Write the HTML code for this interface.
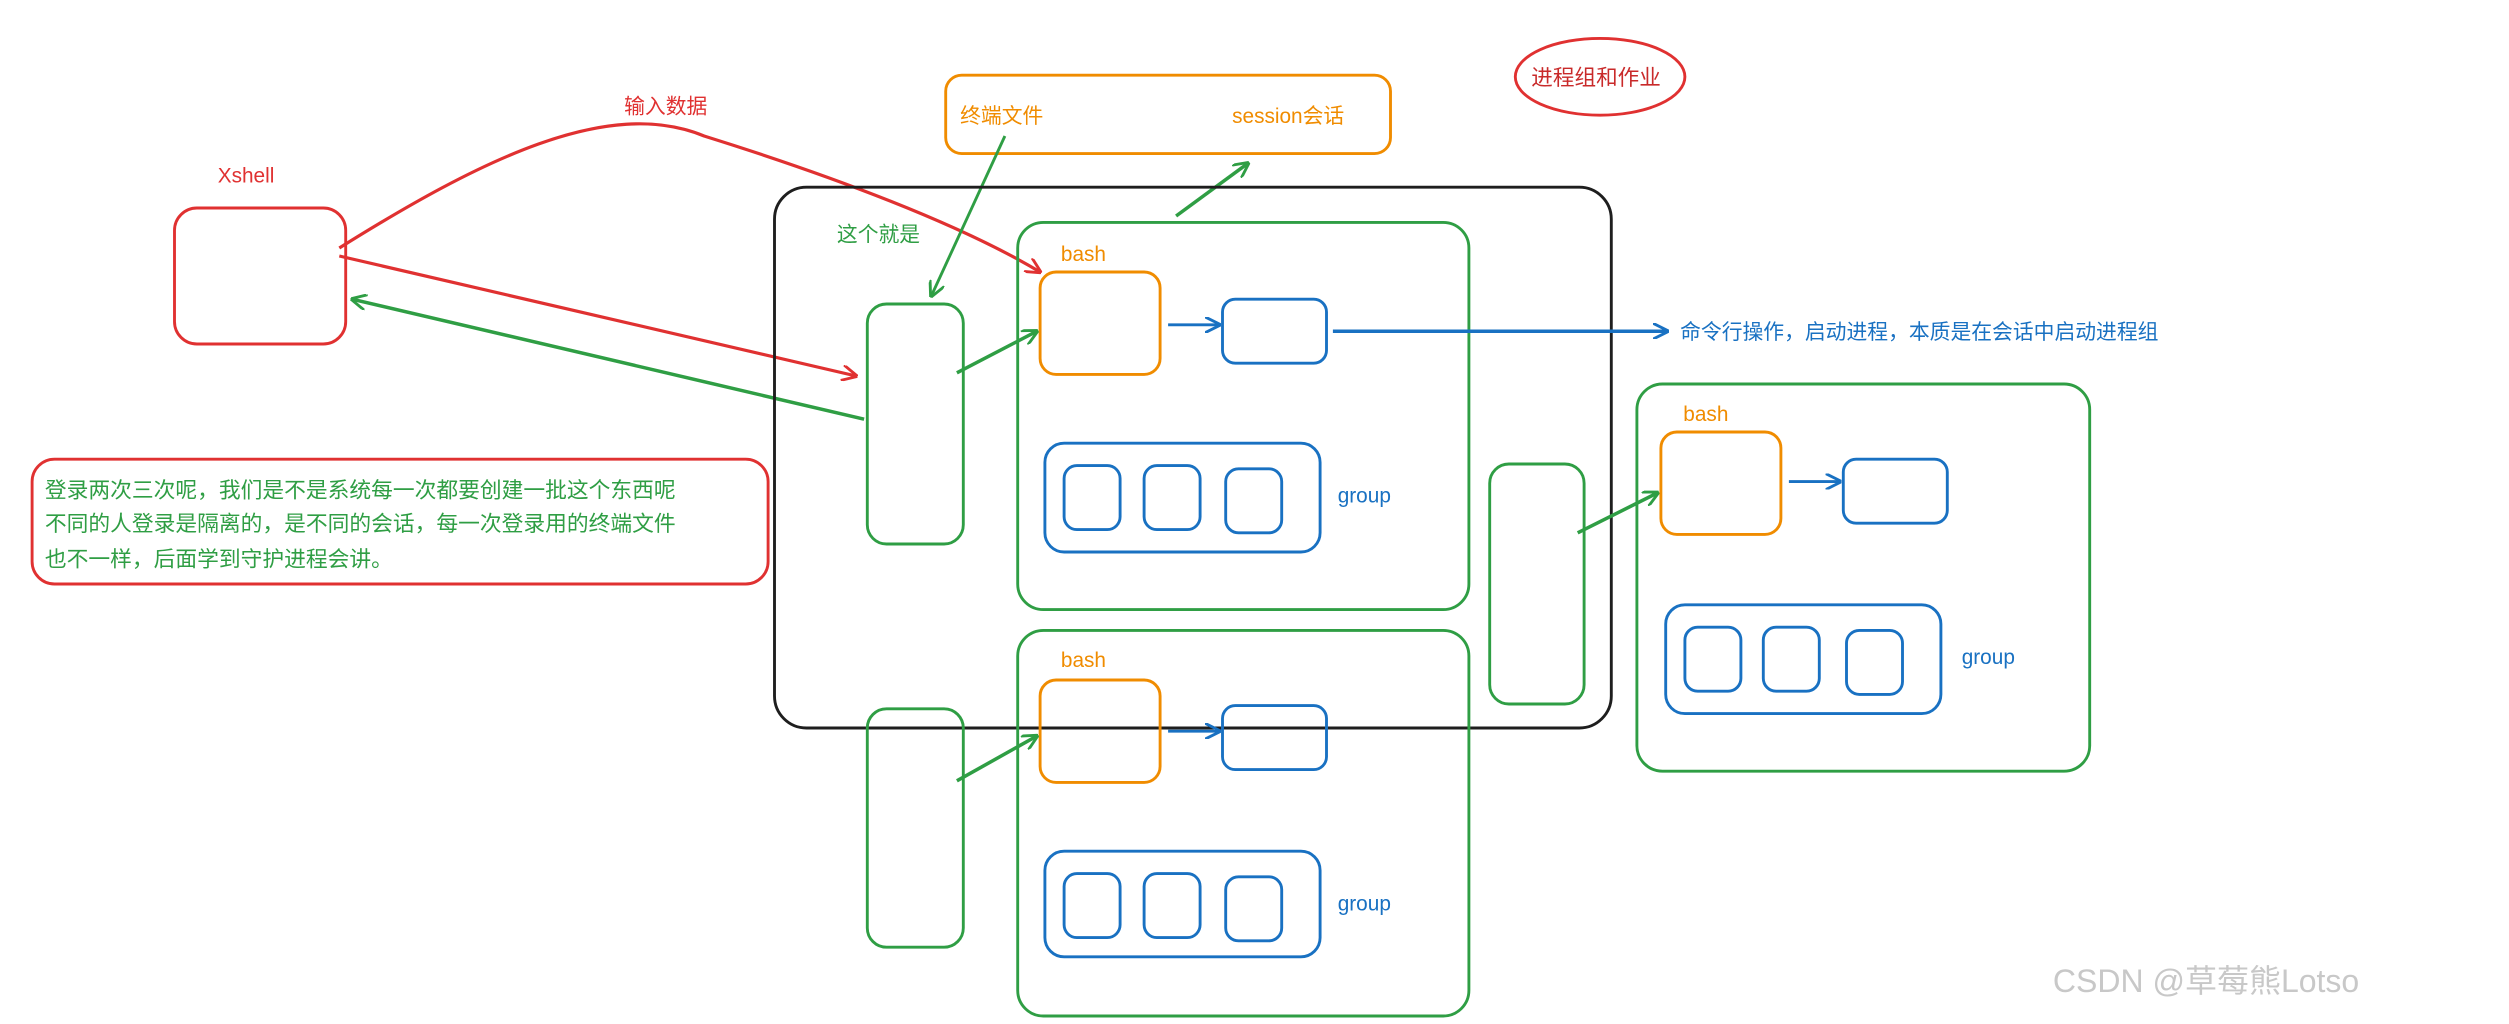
<!DOCTYPE html>
<html><head><meta charset="utf-8"><style>
html,body{margin:0;padding:0;background:#fff;}
svg{display:block}
text{font-family:"Liberation Sans","Noto Sans CJK SC",sans-serif;}
</style></head><body>
<svg width="2509" height="1024" viewBox="0 0 1568 640" xmlns="http://www.w3.org/2000/svg">
<defs>
<marker id="ar" markerWidth="10" markerHeight="10" refX="9" refY="5" orient="auto" markerUnits="userSpaceOnUse"><path d="M0,0 L10,5 L0,10" fill="none" stroke="#e03131" stroke-width="1.8"/></marker>
<marker id="ag" markerWidth="10" markerHeight="10" refX="9" refY="5" orient="auto" markerUnits="userSpaceOnUse"><path d="M0,0 L10,5 L0,10" fill="none" stroke="#2f9e44" stroke-width="1.8"/></marker>
<marker id="ab" markerWidth="10" markerHeight="10" refX="9" refY="5" orient="auto" markerUnits="userSpaceOnUse"><path d="M0,0 L10,5 L0,10" fill="none" stroke="#1971c2" stroke-width="1.8"/></marker>
</defs>
<g fill="none" stroke-width="1.8">
<rect x="109" y="130" width="107" height="85" rx="14" stroke="#e03131"/>
<path d="M212,155 C300,100 380,60 440,85 C520,110 600,140 650,170" stroke="#e03131" stroke-width="2" marker-end="url(#ar)"/>
<line x1="212" y1="160" x2="535" y2="235" stroke="#e03131" stroke-width="2" marker-end="url(#ar)"/>
<line x1="540" y1="262" x2="220" y2="187" stroke="#2f9e44" stroke-width="2.2" marker-end="url(#ag)"/>
<rect x="591" y="47" width="278" height="49" rx="10" stroke="#f08c00"/>
<line x1="628" y1="85" x2="582" y2="185" stroke="#2f9e44" marker-end="url(#ag)"/>
<line x1="735" y1="135" x2="780" y2="102" stroke="#2f9e44" stroke-width="2.2" marker-end="url(#ag)"/>
<rect x="484" y="117" width="523" height="338" rx="20" stroke="#1e1e1e"/>
<rect x="542" y="190" width="60" height="150" rx="12" stroke="#2f9e44"/>
<rect x="542" y="443" width="60" height="149" rx="12" stroke="#2f9e44"/>
<rect x="636" y="139" width="282" height="242" rx="16" stroke="#2f9e44"/>
<rect x="650" y="170" width="75" height="64" rx="10" stroke="#f08c00"/>
<line x1="730" y1="203" x2="762" y2="203" stroke="#1971c2" marker-end="url(#ab)"/>
<rect x="764" y="187" width="65" height="40" rx="8" stroke="#1971c2"/>
<line x1="833" y1="207" x2="1042" y2="207" stroke="#1971c2" stroke-width="2.2" marker-end="url(#ab)"/>
<rect x="653" y="277" width="172" height="68" rx="12" stroke="#1971c2"/>
<rect x="665" y="291" width="35" height="40" rx="8" stroke="#1971c2"/>
<rect x="715" y="291" width="35" height="40" rx="8" stroke="#1971c2"/>
<rect x="766" y="293" width="35" height="40" rx="8" stroke="#1971c2"/>
<line x1="598" y1="233" x2="648" y2="207" stroke="#2f9e44" stroke-width="2.2" marker-end="url(#ag)"/>
<rect x="636" y="394" width="282" height="241" rx="16" stroke="#2f9e44"/>
<rect x="650" y="425" width="75" height="64" rx="10" stroke="#f08c00"/>
<line x1="730" y1="457" x2="762" y2="457" stroke="#1971c2" marker-end="url(#ab)"/>
<rect x="764" y="441" width="65" height="40" rx="8" stroke="#1971c2"/>
<rect x="653" y="532" width="172" height="66" rx="12" stroke="#1971c2"/>
<rect x="665" y="546" width="35" height="40" rx="8" stroke="#1971c2"/>
<rect x="715" y="546" width="35" height="40" rx="8" stroke="#1971c2"/>
<rect x="766" y="548" width="35" height="40" rx="8" stroke="#1971c2"/>
<line x1="598" y1="488" x2="648" y2="460" stroke="#2f9e44" stroke-width="2.2" marker-end="url(#ag)"/>
<rect x="931" y="290" width="59" height="150" rx="12" stroke="#2f9e44"/>
<line x1="986" y1="333" x2="1036" y2="308" stroke="#2f9e44" stroke-width="2.2" marker-end="url(#ag)"/>
<rect x="1023" y="240" width="283" height="242" rx="16" stroke="#2f9e44"/>
<rect x="1038" y="270" width="75" height="64" rx="10" stroke="#f08c00"/>
<line x1="1118" y1="301" x2="1150" y2="301" stroke="#1971c2" marker-end="url(#ab)"/>
<rect x="1152" y="287" width="65" height="40" rx="8" stroke="#1971c2"/>
<rect x="1041" y="378" width="172" height="68" rx="12" stroke="#1971c2"/>
<rect x="1053" y="392" width="35" height="40" rx="8" stroke="#1971c2"/>
<rect x="1102" y="392" width="35" height="40" rx="8" stroke="#1971c2"/>
<rect x="1154" y="394" width="35" height="40" rx="8" stroke="#1971c2"/>
<rect x="20" y="287" width="460" height="78" rx="14" stroke="#e03131"/>
<ellipse cx="1000" cy="48" rx="53" ry="24" stroke="#e03131"/>
</g>
<g font-size="13">
<text x="136" y="114" fill="#e03131">Xshell</text>
<text x="390" y="71" fill="#e03131">输入数据</text>
<text x="600" y="77" fill="#f08c00">终端文件</text>
<text x="770" y="77" fill="#f08c00">session会话</text>
<text x="523" y="151" fill="#2f9e44">这个就是</text>
<text x="663" y="163" fill="#f08c00">bash</text>
<text x="663" y="417" fill="#f08c00">bash</text>
<text x="1052" y="263" fill="#f08c00">bash</text>
<text x="836" y="314" fill="#1971c2">group</text>
<text x="836" y="569" fill="#1971c2">group</text>
<text x="1226" y="415" fill="#1971c2">group</text>
<text x="1050" y="212" fill="#1971c2">命令行操作，启动进程，本质是在会话中启动进程组</text>
<text x="957" y="53" fill="#c92a2a" font-size="13.5">进程组和作业</text>
<text x="28" y="311" fill="#2f9e44" font-size="13.6">登录两次三次呢，我们是不是系统每一次都要创建一批这个东西呢</text>
<text x="28" y="332" fill="#2f9e44" font-size="13.6">不同的人登录是隔离的，是不同的会话，每一次登录用的终端文件</text>
<text x="28" y="354" fill="#2f9e44" font-size="13.6">也不一样，后面学到守护进程会讲。</text>
<text x="1283" y="620" fill="#c8c8c8" font-size="20">CSDN @草莓熊Lotso</text>
</g>
</svg>
</body></html>
